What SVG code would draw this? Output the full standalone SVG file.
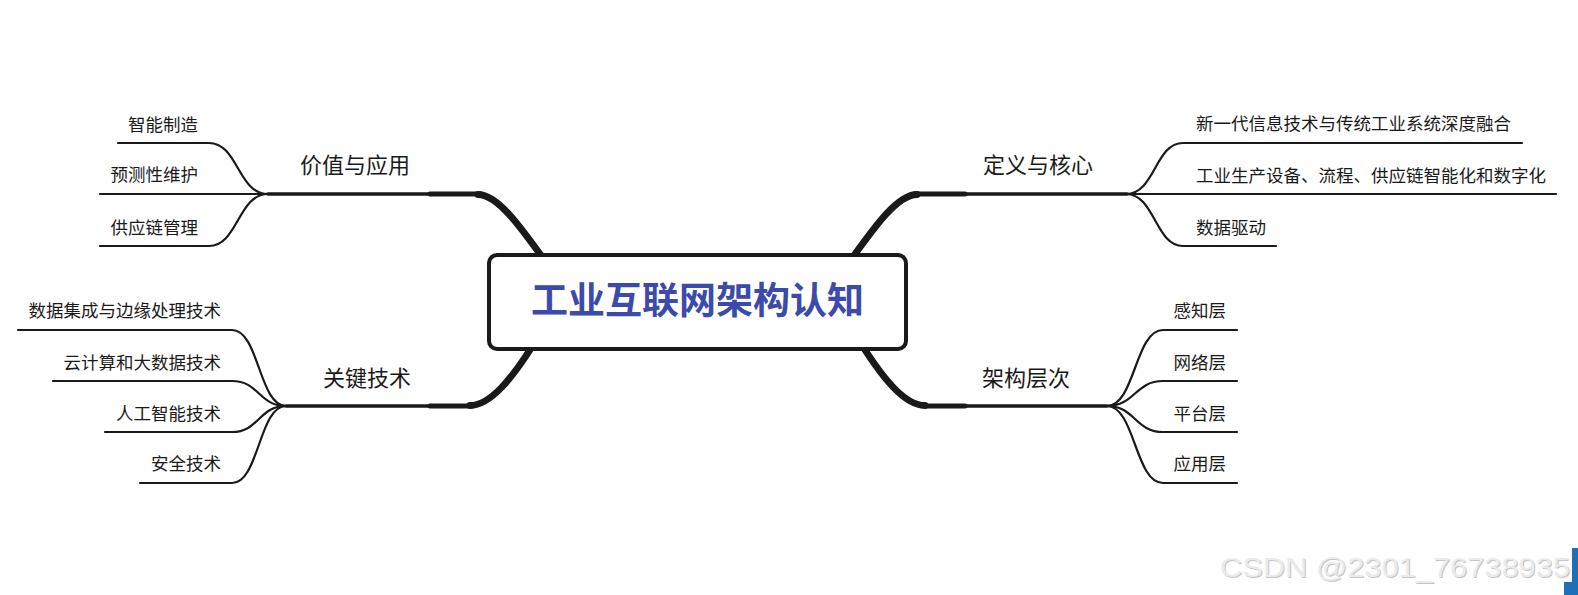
<svg xmlns="http://www.w3.org/2000/svg" width="1578" height="595" viewBox="0 0 1578 595">
<style>
.bg{fill:#ffffff}
.ln{fill:none;stroke:#1a1a1a;stroke-width:2.2;stroke-linecap:round}
.m1{fill:none;stroke:#1a1a1a;stroke-width:3.6;stroke-linecap:round}
.m2{fill:none;stroke:#1a1a1a;stroke-width:5;stroke-linecap:round}
.m3{fill:none;stroke:#1a1a1a;stroke-width:6.8;stroke-linecap:round}
.leaf{font-family:"Noto Sans CJK SC","Noto Sans",sans-serif;font-size:17.5px;fill:#1a1a1a}
.br{font-family:"Noto Sans CJK SC","Noto Sans",sans-serif;font-size:22px;fill:#1a1a1a}
.title{font-family:"Noto Sans CJK SC","Noto Sans",sans-serif;font-size:37px;font-weight:bold;fill:#3B4AAB}
.box{fill:#ffffff;stroke:#1a1a1a;stroke-width:4}
.wm{font-family:"Liberation Sans",Arial,sans-serif;font-size:27px}
</style>
<rect class="bg" x="0" y="0" width="1578" height="595"/>
<g id="connectors">
  <path class="m1" d="M268 194 H440"/>
  <path class="m2" d="M430 194 H480"/>
  <path class="m3" d="M478 194.5 C499 194.5 524 232 550 268"/>
  <path class="m1" d="M1127 194 H955"/>
  <path class="m2" d="M965 194 H915"/>
  <path class="m3" d="M917 194.5 C896 194.5 871 232 845 268"/>
  <path class="m1" d="M286 406 H440"/>
  <path class="m2" d="M430 406 H472"/>
  <path class="m3" d="M470 405.5 C490 405.5 512 380 540 334"/>
  <path class="m1" d="M1107 406 H955"/>
  <path class="m2" d="M965 406 H925"/>
  <path class="m3" d="M925 405.5 C905 405.5 883 380 855 334"/>
  <path class="ln" d="M118 143 H209 C238 143 238 194 268 194"/>
  <path class="ln" d="M100 194 H268"/>
  <path class="ln" d="M100 246 H209 C238 246 238 194 268 194"/>
  <path class="ln" d="M18 330 H232 C259 330 259 406 286 406"/>
  <path class="ln" d="M53 381 H232 C259 381 259 406 286 406"/>
  <path class="ln" d="M105 432 H232 C259 432 259 406 286 406"/>
  <path class="ln" d="M140 483 H232 C259 483 259 406 286 406"/>
  <path class="ln" d="M1126 194 C1155 194 1155 143 1183 143 H1522"/>
  <path class="ln" d="M1126 194 H1556"/>
  <path class="ln" d="M1126 194 C1155 194 1155 246 1183 246 H1276"/>
  <path class="ln" d="M1107 406 C1135 406 1135 330 1163 330 H1237"/>
  <path class="ln" d="M1107 406 C1135 406 1135 381 1163 381 H1237"/>
  <path class="ln" d="M1107 406 C1135 406 1135 432 1163 432 H1237"/>
  <path class="ln" d="M1107 406 C1135 406 1135 483 1163 483 H1237"/>
</g>
<g id="root">
  <rect class="box" x="489" y="255" width="417" height="94" rx="8"/>
  <text class="title" x="697.5" y="314" text-anchor="middle">工业互联网架构认知</text>
</g>
<g id="branch-value"><text class="br" x="300" y="173.4">价值与应用</text></g>
<g id="leaf-v1"><text class="leaf" x="198" y="130.5" text-anchor="end">智能制造</text></g>
<g id="leaf-v2"><text class="leaf" x="198" y="180.5" text-anchor="end">预测性维护</text></g>
<g id="leaf-v3"><text class="leaf" x="198" y="233.5" text-anchor="end">供应链管理</text></g>
<g id="branch-tech"><text class="br" x="323" y="386.4">关键技术</text></g>
<g id="leaf-t1"><text class="leaf" x="221" y="316.5" text-anchor="end">数据集成与边缘处理技术</text></g>
<g id="leaf-t2"><text class="leaf" x="221" y="368.5" text-anchor="end">云计算和大数据技术</text></g>
<g id="leaf-t3"><text class="leaf" x="221" y="419.5" text-anchor="end">人工智能技术</text></g>
<g id="leaf-t4"><text class="leaf" x="221" y="469.5" text-anchor="end">安全技术</text></g>
<g id="branch-def"><text class="br" x="983" y="173.4">定义与核心</text></g>
<g id="leaf-d1"><text class="leaf" x="1196" y="129.5">新一代信息技术与传统工业系统深度融合</text></g>
<g id="leaf-d2"><text class="leaf" x="1196" y="181.5">工业生产设备、流程、供应链智能化和数字化</text></g>
<g id="leaf-d3"><text class="leaf" x="1196" y="233.5">数据驱动</text></g>
<g id="branch-arch"><text class="br" x="982" y="386.4">架构层次</text></g>
<g id="leaf-a1"><text class="leaf" x="1226" y="316.5" text-anchor="end">感知层</text></g>
<g id="leaf-a2"><text class="leaf" x="1226" y="368.5" text-anchor="end">网络层</text></g>
<g id="leaf-a3"><text class="leaf" x="1226" y="419.5" text-anchor="end">平台层</text></g>
<g id="leaf-a4"><text class="leaf" x="1226" y="469.5" text-anchor="end">应用层</text></g>
<g id="watermark">
  <text class="wm" x="1221" y="578" fill="#c4c4c4" textLength="350" lengthAdjust="spacingAndGlyphs">CSDN @2301_76738935</text>
  <text class="wm" x="1220" y="577" fill="#ebebeb" textLength="350" lengthAdjust="spacingAndGlyphs">CSDN @2301_76738935</text>
  <path d="M1572 548 H1578 V595 H1564 V582 H1572 Z" fill="#1d6fb8"/>
</g>
</svg>
